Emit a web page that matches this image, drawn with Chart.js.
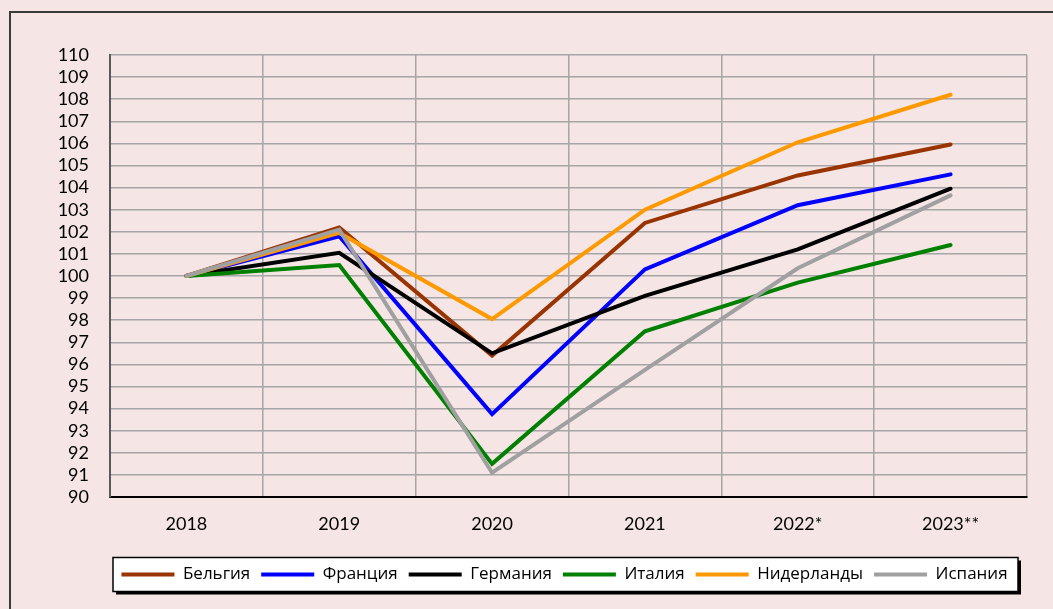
<!DOCTYPE html>
<html>
<head>
<meta charset="utf-8">
<script src="https://cdn.jsdelivr.net/npm/chart.js@4.4.0/dist/chart.umd.min.js"></script>
<style>
  html, body { margin: 0; padding: 0; background: #F5E5E5; }
  #wrap { width: 1053px; height: 609px; position: relative; }
</style>
</head>
<body>
<div id="wrap"><canvas id="c" width="1053" height="609"></canvas></div>
<script>
const years = ['2018', '2019', '2020', '2021', '2022*', '2023**'];
const belgium     = [100, 102.2, 96.4, 102.4, 104.55, 105.95];
const france      = [100, 101.8, 93.75, 100.3, 103.2, 104.6];
const germany     = [100, 101.05, 96.5, 99.1, 101.2, 103.95];
const italy       = [100, 100.5, 91.5, 97.5, 99.7, 101.4];
const netherlands = [100, 101.95, 98.05, 103.0, 106.05, 108.2];
const spain       = [100, 102.1, 91.1, 95.75, 100.35, 103.65];
const seriesNames = ['Бельгия', 'Франция', 'Германия', 'Италия', 'Нидерланды', 'Испания'];
const seriesData = [belgium, france, germany, italy, netherlands, spain];
const seriesColors = ['#993300', '#0000FF', '#000000', '#008000', '#FF9900', '#A0A0A0'];
const yMin = 90, yMax = 110, yStep = 1;

const frame = {
  id: 'frame',
  afterLayout(chart) {
    // center legend items under the plot area like the reference
    const lg = chart.legend;
    if (lg) {
      const dx = ((chart.chartArea.left + chart.chartArea.right) / 2 - 4) - (lg.left + lg.right) / 2;
      lg.left += dx;
      lg.right += dx;
    }
  },
  beforeDraw(chart) {
    const ctx = chart.ctx;
    ctx.save();
    ctx.fillStyle = '#F5E5E5';
    ctx.fillRect(0, 0, chart.width, chart.height);
    ctx.strokeStyle = '#3a3a3a';
    ctx.lineWidth = 2;
    ctx.beginPath();
    ctx.moveTo(10, chart.height);
    ctx.lineTo(10, 12);
    ctx.lineTo(chart.width, 12);
    ctx.stroke();
    // legend box
    const lg = chart.legend;
    if (lg && lg.legendHitBoxes && lg.legendHitBoxes.length) {
      const hb = lg.legendHitBoxes[0];
      const cy = hb.top + hb.height / 2;
      const x0 = chart.chartArea.left + 3, x1 = chart.chartArea.right - 9;
      const y0 = cy - 17, y1 = cy + 17;
      ctx.fillStyle = '#000000';
      ctx.fillRect(x0 + 3, y0 + 3, x1 - x0, y1 - y0);
      ctx.fillStyle = '#FFFFFF';
      ctx.fillRect(x0, y0, x1 - x0, y1 - y0);
      ctx.strokeStyle = '#000000';
      ctx.lineWidth = 1.5;
      ctx.strokeRect(x0, y0, x1 - x0, y1 - y0);
    }
    ctx.restore();
  }
};

new Chart(document.getElementById('c'), {
  type: 'line',
  data: {
    labels: years,
    datasets: seriesNames.map((n, i) => ({
      label: n,
      data: seriesData[i],
      borderColor: seriesColors[i],
      backgroundColor: seriesColors[i],
      borderWidth: 4,
      borderCapStyle: 'round',
      borderJoinStyle: 'miter',
      pointRadius: 0,
      pointHoverRadius: 0,
      tension: 0,
      fill: false,
      order: seriesNames.length - i
    }))
  },
  options: {
    responsive: false,
    animation: false,
    devicePixelRatio: 1,
    layout: { padding: { top: 55, right: 26, left: 0, bottom: 16 } },
    plugins: {
      tooltip: { enabled: false },
      legend: {
        position: 'bottom',
        labels: {
          usePointStyle: true,
          pointStyle: 'line',
          pointStyleWidth: 53,
          padding: 11,
          color: '#000000',
          sort: (a, b) => a.datasetIndex - b.datasetIndex,
          font: { family: "'Open Sans', 'Noto Sans', sans-serif", size: 17 }
        }
      }
    },
    scales: {
      x: {
        offset: true,
        grid: { offset: true, color: '#A6A6A6', lineWidth: 1.5, drawTicks: false },
        border: { color: '#000000', width: 2 },
        ticks: { autoSkip: false, maxRotation: 0, color: '#000000', padding: 16, font: { family: "Lato, 'Open Sans', sans-serif", size: 18 } },
        afterFit(s) { s.height = 58; }
      },
      y: {
        min: yMin, max: yMax,
        grid: { color: '#A6A6A6', lineWidth: 1.5, drawTicks: false },
        border: { color: '#595959', width: 2 },
        ticks: { autoSkip: false, stepSize: yStep, color: '#000000', padding: 21, font: { family: "Lato, 'Open Sans', sans-serif", size: 18 } },
        afterFit(s) { s.width = 110; }
      }
    }
  },
  plugins: [frame]
});
</script>
</body>
</html>
